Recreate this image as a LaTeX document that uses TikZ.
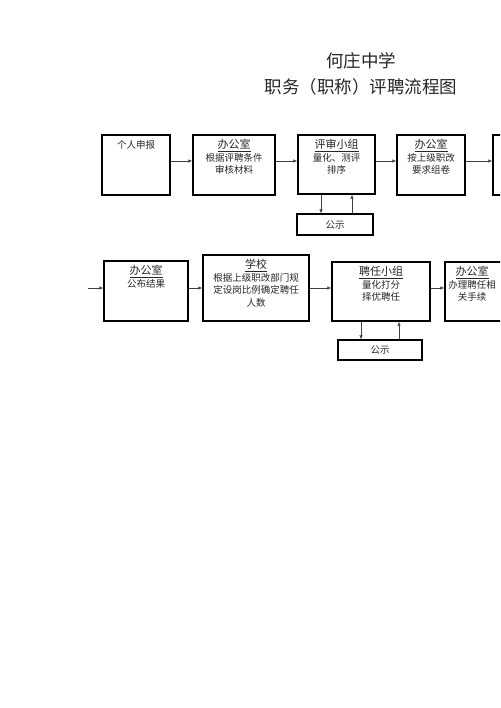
\documentclass[tikz,border=0pt]{standalone}
\usepackage{fontspec}
\setmainfont{Liberation Serif}
\newfontfamily\cjk{Noto Sans CJK SC}
\usetikzlibrary{arrows.meta,calc}
\begin{document}
\begin{tikzpicture}[x=1pt,y=-1pt,
  box/.style={draw=black,line width=1.4pt,inner sep=0pt,minimum width=0pt},
  txt/.style={font=\cjk\fontsize{9.5}{12.5}\selectfont,align=center,anchor=north,inner sep=0pt,text=black!85},
  hd/.style={font=\cjk\fontsize{11}{13}\selectfont,anchor=north,inner sep=0pt,text=black!85},
  arr/.style={draw=black!75,line width=0.6pt,-{Latex[length=4pt,width=3.5pt]}},
  ttl/.style={font=\cjk\fontsize{17.5}{20}\selectfont,inner sep=0pt,text=black!85}]
\useasboundingbox (0,0) rectangle (500,708);
\clip (0,0) rectangle (500,708);
% title
\node[ttl] (t1) at (361,61) {何庄中学};
\node[ttl] (t2) at (361,87) {职务（职称）评聘流程图};
% row 1 boxes
\node[box,minimum width=68,minimum height=60] (b1) at (136,165) {};
\node[box,minimum width=82,minimum height=60] (b2) at (234,165) {};
\node[box,minimum width=77,minimum height=59] (b3) at (336.5,164.5) {};
\node[box,minimum width=68,minimum height=60] (b4) at (431,165) {};
\node[box,minimum width=60,minimum height=60] (b5) at (523,165) {};
\node[box,minimum width=76,minimum height=21,line width=1.2pt] (g1) at (335,224.5) {};
\node[txt] at (b1.north) [yshift=-6] {个人申报};
\node[hd] (h2) at (b2.north) [yshift=-5] {\underline{办公室}};
\node[txt] at (h2.south) [yshift=-1] {根据评聘条件\\审核材料};
\node[hd] (h3) at (b3.north) [yshift=-5] {\underline{评审小组}};
\node[txt] at (h3.south) [yshift=-1] {量化、测评\\排序};
\node[hd] (h4) at (b4.north) [yshift=-5] {\underline{办公室}};
\node[txt] at (h4.south) [yshift=-1] {按上级职改\\要求组卷};
\node[txt,anchor=center] at (g1.center) {公示};
% row 1 arrows
\coordinate (r1) at (0,161);
\draw[arr] (b1.east |- r1) -- (b2.west |- r1);
\draw[arr] (b2.east |- r1) -- (b3.west |- r1);
\draw[arr] (b3.east |- r1) -- (b4.west |- r1);
\draw[arr] (b4.east |- r1) -- (b5.west |- r1);
\coordinate (d1) at (321,0);
\coordinate (u1) at (352,0);
\draw[arr] (b3.south -| d1) -- (g1.north -| d1);
\draw[arr] (g1.north -| u1) -- (b3.south -| u1);
% row 2 boxes
\node[box,minimum width=84,minimum height=60] (bA) at (146,291) {};
\node[box,minimum width=106,minimum height=66] (bB) at (256,288) {};
\node[box,minimum width=98,minimum height=59] (bC) at (381,291.5) {};
\node[box,minimum width=70,minimum height=59] (bD) at (480,291.5) {};
\node[box,minimum width=84,minimum height=20,line width=1.2pt] (g2) at (380,350) {};
\node[hd] (hA) at (bA.north) [yshift=-5] {\underline{办公室}};
\node[txt] at (hA.south) [yshift=-1] {公布结果};
\node[hd] (hB) at (bB.north) [yshift=-5] {\underline{学校}};
\node[txt] at (hB.south) [yshift=-1] {根据上级职改部门规\\定设岗比例确定聘任\\人数};
\node[hd] (hC) at (bC.north) [yshift=-5] {\underline{聘任小组}};
\node[txt] at (hC.south) [yshift=-1] {量化打分\\择优聘任};
\node[hd] (hD) at ($(bD.north)+(-8,0)$) [yshift=-5] {\underline{办公室}};
\node[txt] at (hD.south) [yshift=-1] {办理聘任相\\关手续};
\node[txt,anchor=center] at (g2.center) {公示};
% row 2 arrows
\coordinate (r2) at (0,288);
\coordinate (s2) at (88,288);
\draw[arr] (s2) -- (bA.west |- r2);
\draw[arr] (bA.east |- r2) -- (bB.west |- r2);
\draw[arr] (bB.east |- r2) -- (bC.west |- r2);
\draw[arr] (bC.east |- r2) -- (bD.west |- r2);
\coordinate (d2) at (361,0);
\coordinate (u2) at (399,0);
\draw[arr] (bC.south -| d2) -- (g2.north -| d2);
\draw[arr] (g2.north -| u2) -- (bC.south -| u2);
\end{tikzpicture}
\end{document}
